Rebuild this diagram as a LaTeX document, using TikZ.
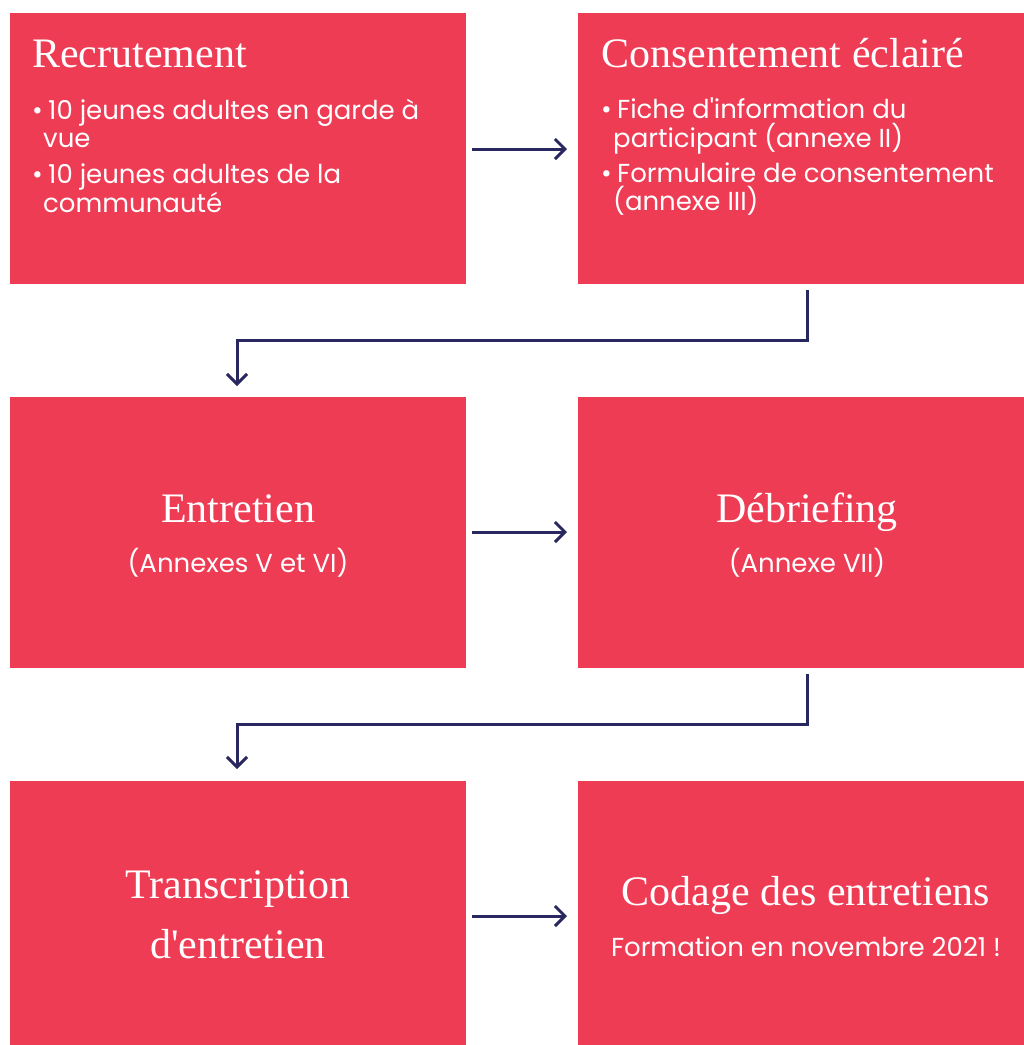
\documentclass[tikz,border=0pt]{standalone}
\usepackage{fontspec}
\usetikzlibrary{arrows.meta}
\newfontfamily\ttlfont{Liberation Serif}
\newfontfamily\bodyfont{Poppins}
\definecolor{boxred}{HTML}{EE3C55}
\definecolor{navy}{HTML}{29275F}
\tikzset{
  box/.style={fill=boxred, draw=none, anchor=north west, inner sep=0pt},
  ttl/.style={text=white, font=\ttlfont\fontsize{42}{42}\selectfont, inner sep=0pt},
  itm/.style={text=white, font=\bodyfont\fontsize{26}{26}\selectfont, inner sep=0pt, anchor=base west},
  sub/.style={text=white, font=\bodyfont\fontsize{26}{26}\selectfont, inner sep=0pt, anchor=base},
  conn/.style={draw=navy, line width=3pt, -{Straight Barb[length=10pt,width=20pt,line width=3pt]}}
}
\begin{document}
\begin{tikzpicture}[x=1pt,y=-1pt]
\useasboundingbox (0,0) rectangle (1024,1045);
% boxes
\node[box, minimum width=456pt, minimum height=271pt] (b1) at (10,13) {};
\node[box, minimum width=460pt, minimum height=271pt] (b2) at (578,13) {};
\node[box, minimum width=456pt, minimum height=271pt] (b3) at (10,397) {};
\node[box, minimum width=460pt, minimum height=271pt] (b4) at (578,397) {};
\node[box, minimum width=456pt, minimum height=271pt] (b5) at (10,781) {};
\node[box, minimum width=460pt, minimum height=271pt] (b6) at (578,781) {};
% box 1
\node[ttl, anchor=base west] (t1) at (32,67) {Recrutement};
\node[itm] (i1a) at (32,119) {•};
\node[itm] (i1b) at (48,119) {10 jeunes adultes en garde à};
\node[itm] (i1c) at (43,147) {vue};
\node[itm] (i1d) at (32,183) {•};
\node[itm] (i1e) at (48,183) {10 jeunes adultes de la};
\node[itm] (i1f) at (43,212) {communauté};
% box 2
\node[ttl, anchor=base west] (t2) at (601,67) {Consentement éclairé};
\node[itm] (i2a) at (601,118) {•};
\node[itm] (i2b) at (617,118) {Fiche d'information du};
\node[itm] (i2c) at (613,147) {participant (annexe II)};
\node[itm] (i2d) at (601,182) {•};
\node[itm] (i2e) at (617,182) {Formulaire de consentement};
\node[itm] (i2f) at (613,210) {(annexe III)};
% box 3
\node[ttl, anchor=base] (t3) at (238,522) {Entretien};
\node[sub] (s3) at (238,572) {(Annexes V et VI)};
% box 4
\node[ttl, anchor=base] (t4) at (807,522) {Débriefing};
\node[sub] (s4) at (807,572) {(Annexe VII)};
% box 5
\node[ttl, anchor=base] (t5) at (238,898) {Transcription};
\node[ttl, anchor=base] (t5b) at (238,958) {d'entretien};
% box 6
\node[ttl, anchor=base] (t6) at (806,905) {Codage des entretiens};
\node[sub] (s6) at (806,956) {Formation en novembre 2021 !};
% connectors
\draw[conn, shorten <=6pt, shorten >=11pt] (b1.east |- 0,149) coordinate (c1) -- (b2.west |- c1);
\draw[conn, shorten <=6pt, shorten >=11pt] (b3.east |- 0,532) coordinate (c3) -- (b4.west |- c3);
\draw[conn, shorten <=6pt, shorten >=11pt] (b5.east |- 0,916) coordinate (c5) -- (b6.west |- c5);
\coordinate (e1) at (807,284);
\coordinate (e1t) at (237,397);
\draw[conn, shorten <=6pt, shorten >=11pt] (e1) -- (807,340) -| (e1t);
\coordinate (e2) at (807,668);
\coordinate (e2t) at (237,781);
\draw[conn, shorten <=6pt, shorten >=12pt] (e2) -- (807,724) -| (e2t);
\end{tikzpicture}
\end{document}
